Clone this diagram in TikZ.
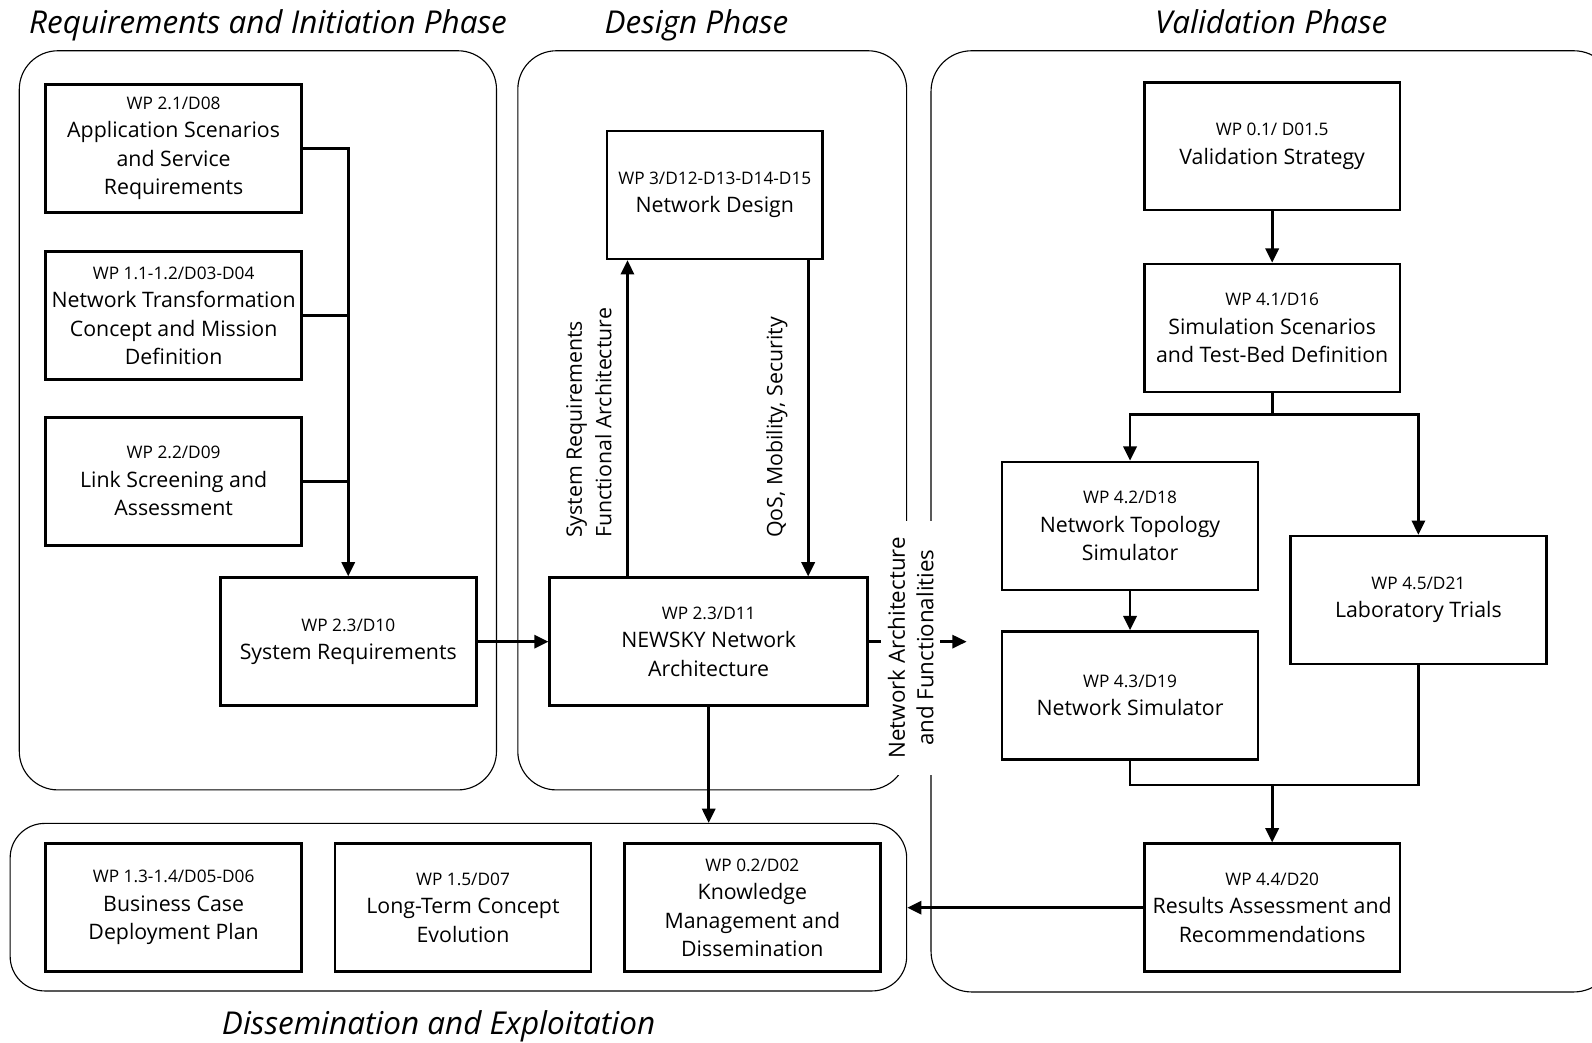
\documentclass[tikz,border=0pt]{standalone}
\usepackage{fontspec}
\setmainfont{Open Sans}
\usetikzlibrary{arrows.meta,calc}

% first, smaller line of a work-package box
\newcommand\wpno[1]{{\fontsize{17}{20}\selectfont #1}\\}

\begin{document}
\begin{tikzpicture}[x=1pt,y=-1pt,
  phase/.style={draw, line width=1.1pt, rounded corners=38pt, inner sep=0pt},
  wpbox/.style={draw, line width=2.6pt, minimum width=252pt, minimum height=126pt,
    inner sep=0pt, align=center, font=\fontsize{21}{28}\selectfont},
  link/.style={line width=2.6pt},
  arr/.style={link, -{Triangle[length=14pt,width=13pt]}},
  title/.style={font=\fontsize{31}{36}\selectfont\itshape, inner sep=0pt, anchor=base},
  side/.style={font=\fontsize{21}{29}\selectfont, inner sep=0pt, rotate=90, align=left}
]
\useasboundingbox (0,0) rectangle (1568,1027);

% phase titles
\node[title] (t1) at (264,33) {Requirements and Initiation Phase};
\node[title] (t2) at (686,33) {Design Phase};
\node[title] (t3) at (1252,33) {Validation Phase};
\node[title] (t4) at (432,1019) {Dissemination and Exploitation};

% phase frames
\node[phase, minimum width=470pt, minimum height=728pt] (rfr) at (254,414) {};
\node[phase, minimum width=383pt, minimum height=728pt] (dsfr) at (701.5,414) {};
\node[phase, rounded corners=40pt, minimum width=673pt, minimum height=927pt] (vfr) at (1253.5,513.5) {};
\node[phase, rounded corners=34pt, minimum width=883pt, minimum height=165pt] (dfr) at (451.5,893.5) {};

% requirements and initiation
\node[wpbox] (a) at (171,146) {\wpno{WP 2.1/D08}Application Scenarios\\and Service\\Requirements};
\node[wpbox] (b) at (171,311) {\wpno{WP 1.1-1.2/D03-D04}Network Transformation\\Concept and Mission\\Definition};
\node[wpbox] (c) at (171,474) {\wpno{WP 2.2/D09}Link Screening and\\Assessment};
\node[wpbox] (d) at (343,632) {\wpno{WP 2.3/D10}System Requirements};

% design
\node[wpbox, minimum width=212pt] (nd) at (704,192) {\wpno{WP 3/D12-D13-D14-D15}Network Design};
\node[wpbox, minimum width=313pt] (na) at (698,632) {\wpno{WP 2.3/D11}NEWSKY Network\\Architecture};

% validation
\node[wpbox] (vs) at (1253,144) {\wpno{WP 0.1/ D01.5}Validation Strategy};
\node[wpbox] (ss) at (1253,323) {\wpno{WP 4.1/D16}Simulation Scenarios\\and Test-Bed Definition};
\node[wpbox] (nts) at (1113,518) {\wpno{WP 4.2/D18}Network Topology\\Simulator};
\node[wpbox] (ns) at (1113,685) {\wpno{WP 4.3/D19}Network Simulator};
\node[wpbox] (lt) at (1397,591) {\wpno{WP 4.5/D21}Laboratory Trials};
\node[wpbox] (ra) at (1253,894) {\wpno{WP 4.4/D20}Results Assessment and\\Recommendations};

% dissemination and exploitation
\node[wpbox] (bc) at (171,894) {\wpno{WP 1.3-1.4/D05-D06}Business Case\\Deployment Plan};
\node[wpbox] (ltc) at (456,894) {\wpno{WP 1.5/D07}Long-Term Concept\\Evolution};
\node[wpbox] (km) at (741,894) {\wpno{WP 0.2/D02}Knowledge\\Management and\\Dissemination};

% requirements flow
\draw[arr] (a.east) -| (d.north);
\draw[link] (b.east) -- (b.east -| d.north);
\draw[link] (c.east) -- (c.east -| d.north);
\draw[arr] (d) -- (na);

% design loop
\draw[arr] ([xshift=-80pt]na.north) -- ([xshift=-80pt]na.north |- nd.south);
\draw[arr] ([xshift=92pt]nd.south) -- ([xshift=92pt]nd.south |- na.north);
\node[side, anchor=west] (lbl1) at (580,530) {System Requirements\\Functional Architecture};
\node[side, anchor=west] (lbl2) at (765,530) {QoS, Mobility, Security};
\draw[arr] (na.south) -- (na.south |- dfr.north);

% validation flow
\draw[arr] (vs) -- (ss);
\coordinate (split) at (1253,408);
\draw[link] (ss.south) -- (split);
\draw[arr] (split) -| (nts.north);
\draw[arr] (split) -| (lt.north);
\draw[arr] (nts) -- (ns);
\coordinate (merge) at (1253,773);
\draw[link] (ns.south) |- (merge);
\draw[link] (lt.south) |- (merge);
\draw[arr] (merge) -- (ra.north);
\draw[arr] (ra.west) -- (ra.west -| dfr.east);

% hand-over from design to validation
\coordinate (naout) at (952,632);
\draw[arr] (na.east) -- (naout);
\node[fill=white, rotate=90, minimum width=250pt, minimum height=58pt, inner sep=0pt,
  align=center, font=\fontsize{22}{28}\selectfont] (nalbl) at (897,638)
  {Network Architecture\\and Functionalities};
\end{tikzpicture}
\end{document}
